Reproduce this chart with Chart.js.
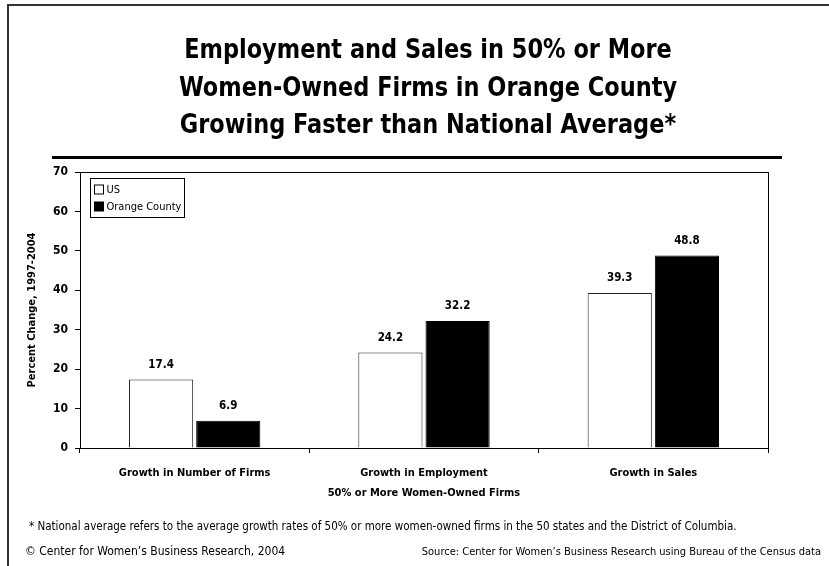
<!DOCTYPE html>
<html>
<head>
<meta charset="utf-8">
<script src="https://cdn.jsdelivr.net/npm/chart.js@4/dist/chart.umd.min.js"></script>
<style>
  html, body { margin: 0; padding: 0; background: #fff; }
  #wrap { width: 829px; height: 566px; position: relative; }
</style>
</head>
<body>
<div id="wrap"><canvas id="c" width="829" height="566"></canvas></div>
<script>
const categories = ["Growth in Number of Firms", "Growth in Employment", "Growth in Sales"];
const usValues = [17.4, 24.2, 39.3];
const orangeValues = [6.9, 32.2, 48.8];
const seriesNames = ["US", "Orange County"];
const yTicks = [0, 10, 20, 30, 40, 50, 60, 70];
const titleLines = ["Employment and Sales in 50% or More", "Women-Owned Firms in Orange County", "Growing Faster than National Average*"];
const xAxisTitle = "50% or More Women-Owned Firms";
const yAxisTitle = "Percent Change, 1997-2004";
const footnote = "* National average refers to the average growth rates of 50% or more women-owned firms in the 50 states and the District of Columbia.";
const copyrightText = "\u00A9 Center for Women\u2019s Business Research, 2004";
const sourceText = "Source: Center for Women\u2019s Business Research using Bureau of the Census data";

const FF = "'Liberation Sans Narrow', 'DejaVu Sans Condensed', 'Arial Narrow', sans-serif";

const decorPlugin = {
  id: 'decor',
  beforeDraw(chart) {
    const ctx = chart.ctx;
    ctx.save();
    // outer border (left & top)
    ctx.strokeStyle = '#333';
    ctx.lineWidth = 2;
    ctx.beginPath();
    ctx.moveTo(8, 566);
    ctx.lineTo(8, 5);
    ctx.lineTo(829, 5);
    ctx.stroke();
    // title (slightly condensed)
    ctx.fillStyle = '#000';
    ctx.font = 'bold 26px ' + FF;
    ctx.textAlign = 'center';
    ctx.textBaseline = 'alphabetic';
    const ys = [58, 96, 133];
    const sx = 0.96;
    ctx.save();
    ctx.scale(sx, 1);
    titleLines.forEach((t, i) => ctx.fillText(t, 428 / sx, ys[i]));
    ctx.restore();
    // rule
    ctx.lineWidth = 3;
    ctx.strokeStyle = '#000';
    ctx.beginPath();
    ctx.moveTo(52, 157.5);
    ctx.lineTo(782, 157.5);
    ctx.stroke();
    // footnotes
    ctx.font = '11.5px ' + FF;
    ctx.textAlign = 'left';
    ctx.fillText(footnote, 29, 530);
    ctx.font = '12px ' + FF;
    ctx.fillText(copyrightText, 25, 555);
    ctx.font = '11px ' + FF;
    ctx.textAlign = 'right';
    ctx.fillText(sourceText, 821, 555);
    ctx.restore();
  },
  afterDatasetsDraw(chart) {
    const ctx = chart.ctx;
    const a = chart.chartArea;
    ctx.save();
    // plot frame
    ctx.strokeStyle = '#000';
    ctx.lineWidth = 1;
    ctx.strokeRect(Math.round(a.left) + 0.5, Math.round(a.top) + 0.5, Math.round(a.right - a.left), Math.round(a.bottom - a.top));
    // data labels
    ctx.fillStyle = '#000';
    ctx.font = 'bold 11.5px ' + FF;
    ctx.textAlign = 'center';
    ctx.textBaseline = 'bottom';
    chart.data.datasets.forEach((ds, di) => {
      const meta = chart.getDatasetMeta(di);
      meta.data.forEach((bar, i) => {
        ctx.fillText(ds.data[i].toFixed(1), bar.x, bar.y - 9);
      });
    });
    // legend
    const lx = Math.round(a.left) + 10.5, ly = Math.round(a.top) + 6.5;
    ctx.strokeStyle = '#000';
    ctx.fillStyle = '#fff';
    ctx.fillRect(lx, ly, 94, 39);
    ctx.strokeRect(lx, ly, 94, 39);
    ctx.font = '11px ' + FF;
    ctx.textAlign = 'left';
    ctx.textBaseline = 'middle';
    chart.data.datasets.forEach((ds, di) => {
      const yy = ly + 11 + di * 17;
      ctx.fillStyle = ds.backgroundColor;
      ctx.fillRect(lx + 4, yy - 4.5, 9, 9);
      ctx.strokeStyle = '#000';
      ctx.strokeRect(lx + 4, yy - 4.5, 9, 9);
      ctx.fillStyle = '#000';
      ctx.fillText(ds.label, lx + 16, yy + 0.5);
    });
    ctx.restore();
  }
};

new Chart(document.getElementById('c'), {
  type: 'bar',
  data: {
    labels: categories,
    datasets: [
      { label: seriesNames[0], data: usValues, backgroundColor: '#ffffff', borderColor: '#222', borderWidth: 1 },
      { label: seriesNames[1], data: orangeValues, backgroundColor: '#000000', borderColor: '#000', borderWidth: 1 }
    ]
  },
  plugins: [decorPlugin],
  options: {
    responsive: false,
    animation: false,
    devicePixelRatio: 1,
    layout: { padding: { left: 26, top: 172, right: 61, bottom: 66 } },
    datasets: { bar: { categoryPercentage: 0.586, barPercentage: 0.955 } },
    plugins: { legend: { display: false }, tooltip: { enabled: false }, title: { display: false } },
    scales: {
      x: {
        grid: { display: true, drawOnChartArea: false, drawTicks: true, tickLength: 5, color: '#000', offset: true },
        border: { display: true, color: '#000', width: 1 },
        ticks: { color: '#000', font: { family: FF, size: 11, weight: 'bold' }, padding: 14, maxRotation: 0 },
        title: { display: true, text: xAxisTitle, color: '#000', font: { family: FF, size: 11, weight: 'bold' }, padding: 0 },
        afterFit(scale) { scale.height = 52; }
      },
      y: {
        min: 0, max: 70,
        afterBuildTicks(scale) { scale.ticks = yTicks.map(v => ({ value: v })); },
        grid: { display: true, drawOnChartArea: false, drawTicks: true, tickLength: 5, color: '#000' },
        border: { display: true, color: '#000', width: 1 },
        ticks: { color: '#000', font: { family: FF, size: 12, weight: 'bold' }, padding: 7 },
        title: { display: true, text: yAxisTitle, color: '#000', font: { family: FF, size: 11, weight: 'bold' }, padding: 0 },
        afterFit(scale) { scale.width = 54; }
      }
    }
  }
});
</script>
</body>
</html>
